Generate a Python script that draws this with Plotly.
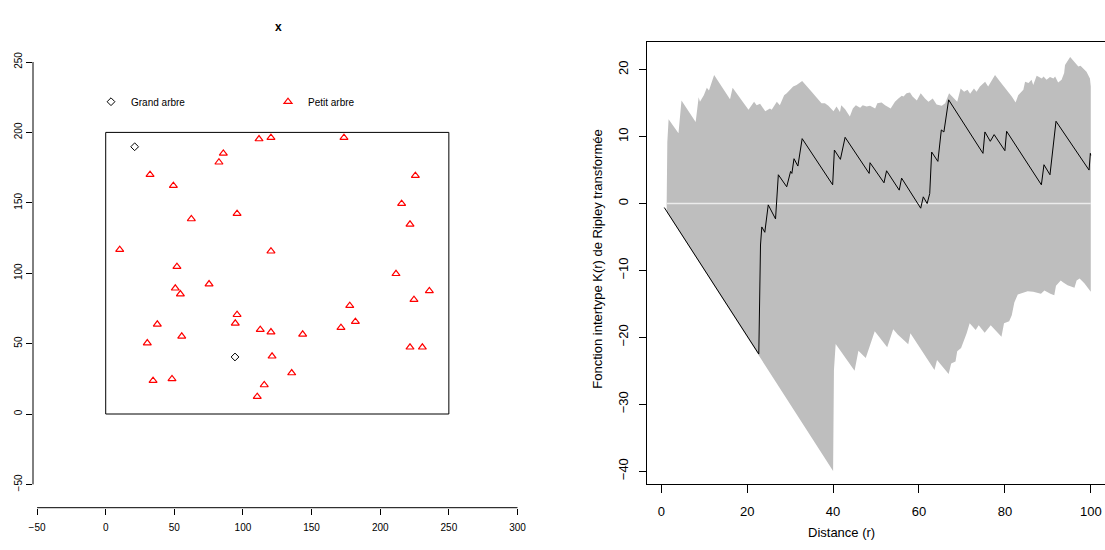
import plotly.graph_objects as go

W, H = 1105, 550
FONT = "Liberation Sans, Arial, sans-serif"

# --- Semis de points : grands et petits arbres -------------------------------
grand_x = [21.1, 94.2]
grand_y = [189.8, 40.5]

petit_x = [111.7, 120.4, 173.6, 85.7, 82.5, 32.3, 225.6, 49.3, 215.6, 62.4,
           95.7, 221.7, 10.2, 120.4, 51.9, 211.5, 75.3, 50.7, 54.4, 235.8,
           224.6, 177.8, 95.7, 181.9, 37.6, 94.4, 171.4, 112.6, 120.4, 143.5,
           55.4, 30.3, 221.7, 230.7, 121.2, 135.5, 34.5, 48.3, 115.5, 110.4]
petit_y = [195.3, 196.3, 196.3, 185.1, 178.8, 170.0, 169.3, 162.2, 149.4, 138.5,
           142.3, 134.7, 116.7, 115.6, 104.6, 99.6, 92.3, 89.3, 85.2, 87.4,
           81.2, 76.9, 70.5, 65.6, 63.7, 64.4, 61.3, 59.9, 58.2, 56.6,
           55.2, 50.4, 47.4, 47.4, 41.0, 29.1, 23.7, 24.9, 20.6, 12.3]

window_x = [0, 250]
window_y = [0, 200]

left_xticks = [-50, 0, 50, 100, 150, 200, 250, 300]
left_yticks = [-50, 0, 50, 100, 150, 200, 250]

# --- Fonction K intertype transformée (L(r) - r) et enveloppe -----------------
obs_r = [0.7, 22.7, 23.1, 23.4, 24.1, 24.9, 26.6, 27.25, 29.2, 30.1, 30.4, 30.9,
         31.8, 32.8, 39.9, 40.3, 41.7, 42.8, 48.4, 48.6, 51.85, 52.45, 55.4,
         55.95, 60.4, 61.0, 61.9, 62.5, 62.95, 64.4, 65.2, 65.8, 66.9, 74.9,
         75.35, 76.6, 77.5, 80.0, 80.4, 88.5, 89.1, 90.5, 91.9, 99.6, 99.9, 100.0]
obs_v = [-0.6, -22.5, -6.2, -3.5, -4.3, -0.2, -2.3, 4.3, 2.5, 4.8, 4.5, 6.7,
         5.6, 9.7, 2.8, 8.0, 6.6, 9.9, 4.5, 6.1, 3.1, 4.9, 2.0,
         3.8, -0.7, 1.0, 0.0, 1.5, 7.7, 6.3, 11.0, 10.7, 15.5, 7.5,
         10.7, 9.3, 10.3, 7.9, 10.8, 2.8, 5.8, 4.3, 12.3, 5.0, 7.5, 7.2]

hi_r = [1.25, 1.4, 1.7, 4.0, 4.7, 8.0, 8.7, 9.0, 9.9, 10.6, 11.1, 12.3, 16.0,
        16.6, 20.3, 21.6, 22.2, 23.0, 24.2, 25.3, 25.7, 26.9, 27.6, 28.6, 29.2,
        30.7, 31.5, 32.8, 34.6, 37.3, 38.1, 38.9, 40.1, 40.8, 41.6, 41.9, 42.8,
        43.9, 44.6, 45.3, 46.3, 46.9, 47.8, 48.6, 49.8, 50.3, 51.3, 52.1, 53.4,
        54.4, 55.2, 56.0, 56.4, 57.1, 57.9, 58.5, 59.5, 60.4, 61.4, 62.2, 63.2,
        64.1, 65.3, 66.1, 67.0, 68.2, 68.9, 69.7, 70.5, 71.3, 71.9, 72.8, 73.4,
        74.2, 75.4, 76.1, 77.7, 78.9, 80.4, 81.6, 82.5, 83.1, 84.3, 84.7, 85.5,
        86.2, 86.6, 87.4, 88.6, 89.0, 89.7, 90.5, 91.3, 91.7, 92.4, 93.2, 93.8,
        94.0, 95.2, 96.3, 97.1, 97.6, 98.3, 99.0, 99.8, 100.0]
hi_v = [0.0, 9.2, 12.6, 10.5, 15.4, 12.2, 15.9, 15.2, 16.2, 17.3, 16.9, 19.2, 15.6,
        17.3, 14.0, 15.2, 14.7, 14.9, 13.8, 14.2, 14.0, 15.2, 14.7, 16.2, 16.5,
        17.5, 17.7, 18.3, 17.0, 15.0, 15.0, 14.6, 13.8, 14.5, 13.7, 14.7, 14.1,
        13.0, 14.2, 14.7, 14.3, 14.7, 14.5, 14.6, 14.2, 15.0, 15.1, 14.7, 14.2,
        15.2, 15.7, 16.1, 16.0, 16.5, 16.6, 16.0, 15.4, 16.5, 15.7, 15.2, 15.7,
        14.8, 14.6, 15.0, 16.5, 15.6, 15.2, 17.2, 16.7, 17.0, 16.4, 17.2, 16.7,
        17.5, 18.2, 17.5, 19.2, 18.2, 17.0, 16.0, 15.1, 16.2, 17.0, 18.2, 18.0,
        18.5, 17.7, 19.1, 18.7, 19.0, 18.5, 18.9, 18.7, 19.0, 18.1, 18.5, 19.5,
        20.7, 21.9, 21.0, 20.5, 20.6, 20.1, 19.7, 18.7, 17.5]

lo_r = [1.25, 40.0, 40.2, 40.6, 45.0, 45.9, 47.6, 49.7, 52.6, 54.0, 55.1, 57.5,
        58.0, 63.6, 64.2, 66.9, 67.5, 68.5, 68.9, 69.8, 71.1, 71.8, 73.2, 73.9,
        75.3, 76.7, 79.2, 79.8, 81.0, 81.6, 82.2, 83.0, 84.0, 85.3, 86.6, 88.4,
        89.2, 90.6, 91.5, 91.9, 93.0, 93.6, 94.6, 96.2, 96.7, 97.4, 98.5, 100.0]
lo_v = [-1.25, -40.0, -24.9, -21.0, -25.0, -22.0, -23.1, -19.1, -21.5, -18.8, -19.6, -21.05,
        -19.4, -24.9, -23.4, -25.5, -23.9, -23.6, -22.1, -21.6, -19.4, -17.9, -18.9, -18.2,
        -19.3, -18.2, -19.9, -17.9, -17.6, -16.7, -14.8, -13.6, -13.4, -13.1, -13.2, -13.5,
        -13.0, -13.5, -13.7, -12.3, -11.5, -11.8, -12.2, -12.6, -11.5, -11.2, -11.9, -13.2]

theo_r = [1.25, 100.0]
theo_v = [0.0, 0.0]

right_xticks = [0, 20, 40, 60, 80, 100]
right_yticks = [-40, -30, -20, -10, 0, 10, 20]

fig = go.Figure()

fig.add_trace(go.Scatter(
    x=grand_x, y=grand_y, mode="markers", name="Grand arbre",
    marker=dict(symbol="diamond-open", size=6, color="black", line=dict(width=1)),
    xaxis="x", yaxis="y"))
fig.add_trace(go.Scatter(
    x=petit_x, y=petit_y, mode="markers", name="Petit arbre",
    marker=dict(symbol="triangle-up-open", size=7, color="#ff0000", line=dict(width=1.2)),
    xaxis="x", yaxis="y"))

# enveloppe : bord haut puis bord bas parcouru à l'envers
env_x = hi_r + lo_r[::-1]
env_y = hi_v + lo_v[::-1]
fig.add_trace(go.Scatter(
    x=env_x, y=env_y, mode="lines", fill="toself", fillcolor="#bebebe",
    line=dict(width=0, color="#bebebe"), showlegend=False, hoverinfo="skip",
    xaxis="x2", yaxis="y2"))
fig.add_trace(go.Scatter(
    x=theo_r, y=theo_v, mode="lines", line=dict(color="#ececec", width=1.6),
    showlegend=False, xaxis="x2", yaxis="y2"))
fig.add_trace(go.Scatter(
    x=obs_r, y=obs_v, mode="lines", line=dict(color="black", width=1),
    showlegend=False, xaxis="x2", yaxis="y2"))


def px(v):
    return v / W


def py(v):
    return 1 - v / H


tick_font = dict(family=FONT, size=10, color="black")
tick_font_r = dict(family=FONT, size=13, color="black")

fig.update_layout(
    width=W, height=H, autosize=False,
    margin=dict(l=0, r=0, t=0, b=0),
    paper_bgcolor="white", plot_bgcolor="white",
    font=dict(family=FONT, color="black"),
    showlegend=True,
    legend=dict(orientation="h", x=px(91), y=py(101.7), xanchor="left", yanchor="middle",
                font=dict(family=FONT, size=10, color="black"),
                entrywidth=132, entrywidthmode="pixels",
                bgcolor="rgba(0,0,0,0)", borderwidth=0, itemclick=False),
    xaxis=dict(domain=[px(33), px(540)], range=[-52.97, 316.41], anchor="y",
               tickvals=left_xticks, ticks="outside", ticklen=6, tickcolor="black",
               tickfont=tick_font, showgrid=False, zeroline=False, showline=False,
               ticklabelstandoff=4, automargin=False),
    yaxis=dict(domain=[py(507.7), py(50)], range=[-66.55, 258.52], anchor="x",
               tickvals=left_yticks, ticks="outside", ticklen=6, tickcolor="black",
               tickfont=tick_font, tickangle=-90, showgrid=False, zeroline=False,
               showline=False, ticklabelstandoff=0, automargin=False),
    xaxis2=dict(domain=[px(646.7), 1.0], range=[-3.40, 103.31], anchor="y2",
                tickvals=right_xticks, ticks="outside", ticklen=8, tickcolor="black",
                tickfont=tick_font_r, showgrid=False, zeroline=False,
                showline=True, linecolor="black", linewidth=1, mirror=True,
                ticklabelstandoff=7, automargin=False),
    yaxis2=dict(domain=[py(484.3), py(41.7)], range=[-41.97, 24.19], anchor="x2",
                tickvals=right_yticks, ticks="outside", ticklen=7, tickcolor="black",
                tickfont=tick_font_r, tickangle=-90, showgrid=False, zeroline=False,
                showline=True, linecolor="black", linewidth=1,
                ticklabelstandoff=6, automargin=False),
    shapes=[
        # fenêtre d'observation
        dict(type="rect", xref="x", yref="y", x0=window_x[0], x1=window_x[1],
             y0=window_y[0], y1=window_y[1], line=dict(color="black", width=1)),
        # lignes d'axes limitées à la plage des graduations
        dict(type="line", xref="x", yref="y domain", x0=left_xticks[0], x1=left_xticks[-1],
             y0=0, y1=0, line=dict(color="black", width=1)),
        dict(type="line", xref="x domain", yref="y", x0=0, x1=0,
             y0=left_yticks[0], y1=left_yticks[-1], line=dict(color="black", width=1)),
    ],
    annotations=[
        dict(text="<b>x</b>", x=px(273), y=py(18), xref="paper", yref="paper",
             showarrow=False, font=dict(family=FONT, size=12, color="black")),
        dict(text="Distance (r)", x=px(876.7), y=py(542), xref="paper", yref="paper",
             showarrow=False, font=dict(family=FONT, size=13, color="black")),
        dict(text="Fonction intertype K(r) de Ripley transformée", textangle=-90,
             x=px(596.7), y=py(259), xref="paper", yref="paper",
             showarrow=False, font=dict(family=FONT, size=13, color="black")),
    ],
)

fig.write_html("out.html")
